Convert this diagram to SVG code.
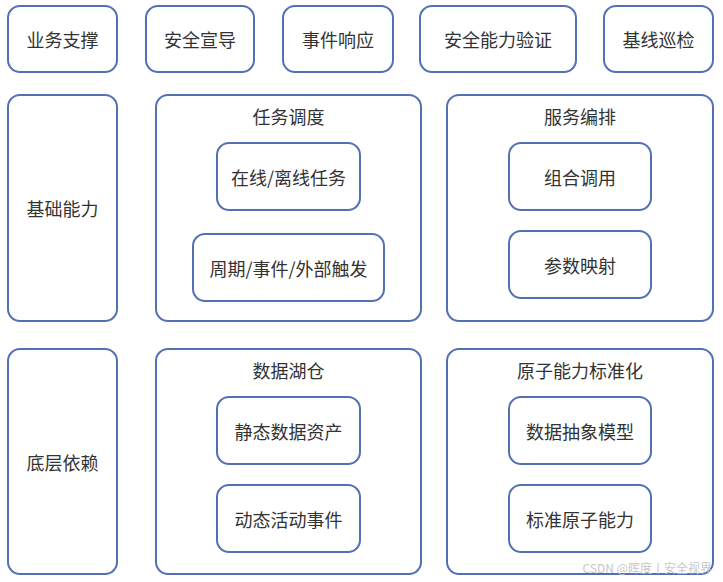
<svg xmlns="http://www.w3.org/2000/svg" width="723" height="582" viewBox="0 0 723 582">
<style>
rect.b{fill:#fff;stroke:#5470b4;stroke-width:2}
text{font-family:"Noto Sans CJK SC","Liberation Sans",sans-serif;font-size:18px;fill:#333;text-anchor:middle;dominant-baseline:central}
text.wm{font-size:12px;fill:#c8c8c8;text-anchor:end}
</style>
<rect width="723" height="582" fill="#fff"/>
<g id="n-yewu"><rect class="b" x="8" y="6" width="109" height="66" rx="12"/><text x="62.5" y="39">业务支撑</text></g>
<g id="n-xuandao"><rect class="b" x="146" y="6" width="108" height="66" rx="12"/><text x="200" y="39">安全宣导</text></g>
<g id="n-xiangying"><rect class="b" x="283" y="6" width="110" height="66" rx="12"/><text x="338" y="39">事件响应</text></g>
<g id="n-yanzheng"><rect class="b" x="420" y="6" width="156" height="66" rx="12"/><text x="498" y="39">安全能力验证</text></g>
<g id="n-xunjian"><rect class="b" x="604" y="6" width="109" height="66" rx="12"/><text x="658.5" y="39">基线巡检</text></g>

<g id="n-jichu"><rect class="b" x="8" y="95" width="109" height="226" rx="12"/><text x="62.5" y="208">基础能力</text></g>
<g id="n-renwu"><rect class="b" x="156" y="95" width="265" height="226" rx="12"/><text x="288.5" y="116">任务调度</text>
<g id="n-zaixian"><rect class="b" x="217" y="143" width="143" height="67" rx="12"/><text x="288.5" y="176.5">在线/离线任务</text></g>
<g id="n-zhouqi"><rect class="b" x="193" y="234" width="191" height="67" rx="12"/><text x="288.5" y="267.5">周期/事件/外部触发</text></g>
</g>
<g id="n-bianpai"><rect class="b" x="447" y="95" width="266" height="226" rx="12"/><text x="580" y="116">服务编排</text>
<g id="n-zuhe"><rect class="b" x="509" y="143" width="142" height="67" rx="12"/><text x="580" y="176.5">组合调用</text></g>
<g id="n-canshu"><rect class="b" x="509" y="231" width="142" height="67" rx="12"/><text x="580" y="264.5">参数映射</text></g>
</g>

<g id="n-diceng"><rect class="b" x="8" y="349" width="109" height="225" rx="12"/><text x="62.5" y="462">底层依赖</text></g>
<g id="n-hucang"><rect class="b" x="156" y="349" width="265" height="225" rx="12"/><text x="288.5" y="370">数据湖仓</text>
<g id="n-jingtai"><rect class="b" x="217" y="397" width="143" height="67" rx="12"/><text x="288.5" y="430.5">静态数据资产</text></g>
<g id="n-dongtai"><rect class="b" x="217" y="485" width="143" height="67" rx="12"/><text x="288.5" y="518.5">动态活动事件</text></g>
</g>
<g id="n-yuanzi"><rect class="b" x="447" y="349" width="266" height="225" rx="12"/><text x="580" y="370">原子能力标准化</text>
<g id="n-chouxiang"><rect class="b" x="509" y="397" width="142" height="67" rx="12"/><text x="580" y="430.5">数据抽象模型</text></g>
<g id="n-biaozhun"><rect class="b" x="509" y="485" width="142" height="67" rx="12"/><text x="580" y="518.5">标准原子能力</text></g>
</g>
<g id="connectors"></g>
<text class="wm" x="712" y="567">CSDN @晖度丨安全视界</text>
</svg>
